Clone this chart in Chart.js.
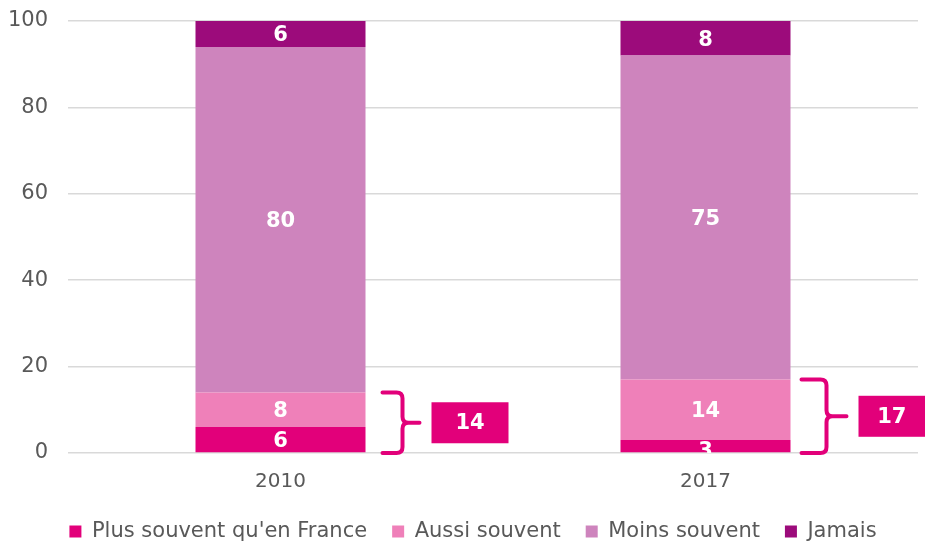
<!DOCTYPE html>
<html>
<head>
<meta charset="utf-8">
<script src="https://cdn.jsdelivr.net/npm/chart.js@4/dist/chart.umd.min.js"></script>
<style>
  html, body { margin: 0; padding: 0; background: #fff; }
  #wrap { width: 925px; height: 542px; position: relative; }
</style>
</head>
<body>
<div id="wrap"><canvas id="c"></canvas></div>
<script>
var years = ["2010", "2017"];
var plusSouvent = [6, 3];
var aussiSouvent = [8, 14];
var moinsSouvent = [80, 75];
var jamais = [6, 8];
var yTicks = [0, 20, 40, 60, 80, 100];

var FONT = "'DejaVu Sans', Verdana, sans-serif";
var MAGENTA = "#E2007A";

// white values centred in every stacked segment
var segmentLabels = {
  id: "segmentLabels",
  afterDatasetsDraw: function (chart) {
    var ctx = chart.ctx, area = chart.chartArea;
    ctx.save();
    ctx.beginPath();
    ctx.rect(area.left, area.top, area.right - area.left, area.bottom - area.top);
    ctx.clip();
    ctx.fillStyle = "#fff";
    ctx.font = "bold 21px " + FONT;
    ctx.textAlign = "center";
    ctx.textBaseline = "middle";
    chart.data.datasets.forEach(function (ds, i) {
      chart.getDatasetMeta(i).data.forEach(function (bar, j) {
        var h = Math.abs(bar.base - bar.y);
        var mid = (bar.y + bar.base) / 2 + (h < 20 ? 5 : 2);
        ctx.fillText(String(ds.data[j]), bar.x, mid);
      });
    });
    ctx.restore();
  }
};

// brace around the two lower segments with their sum in a box
var braceTotals = {
  id: "braceTotals",
  afterDraw: function (chart, args, opts) {
    var ctx = chart.ctx, y = chart.scales.y;
    var meta = chart.getDatasetMeta(0);
    ctx.save();
    meta.data.forEach(function (bar, j) {
      var sum = plusSouvent[j] + aussiSouvent[j];
      var top = y.getPixelForValue(sum);
      var bot = y.getPixelForValue(0);
      var mid = (top + bot) / 2;
      var x0 = bar.x + bar.width / 2 + opts.gap[j];
      var xv = x0 + opts.arm[j], xt = xv + opts.tip[j], r = 6;
      ctx.strokeStyle = MAGENTA;
      ctx.lineWidth = 4;
      ctx.lineCap = "round";
      ctx.beginPath();
      ctx.moveTo(x0, top);
      ctx.lineTo(xv - r, top);
      ctx.quadraticCurveTo(xv, top, xv, top + r);
      ctx.lineTo(xv, mid - r);
      ctx.quadraticCurveTo(xv, mid, xv + r, mid);
      ctx.lineTo(xt, mid);
      ctx.moveTo(xv + r, mid);
      ctx.quadraticCurveTo(xv, mid, xv, mid + r);
      ctx.lineTo(xv, bot - r);
      ctx.quadraticCurveTo(xv, bot, xv - r, bot);
      ctx.lineTo(x0, bot);
      ctx.stroke();
      var bx = xt + 12, bw = 77, bh = 41;
      var bRight = Math.min(bx + bw, chart.width);
      ctx.fillStyle = MAGENTA;
      ctx.fillRect(bx, mid - bh / 2, bw, bh);
      ctx.fillStyle = "#fff";
      ctx.font = "bold 21px " + FONT;
      ctx.textAlign = "center";
      ctx.textBaseline = "middle";
      ctx.fillText(String(sum), (bx + bRight) / 2, mid + 1);
    });
    ctx.restore();
  }
};

// nudge the centred legend row a little to the right
var legendShift = {
  id: "legendShift",
  afterLayout: function (chart, args, opts) {
    if (chart.legend) {
      chart.legend.left += opts.dx;
      chart.legend.right += opts.dx;
    }
  }
};

new Chart(document.getElementById("c"), {
  type: "bar",
  data: {
    labels: years,
    datasets: [
      { label: "Plus souvent qu'en France", data: plusSouvent, backgroundColor: MAGENTA },
      { label: "Aussi souvent", data: aussiSouvent, backgroundColor: "#EF80B9" },
      { label: "Moins souvent", data: moinsSouvent, backgroundColor: "#CE84BD" },
      { label: "Jamais", data: jamais, backgroundColor: "#9C0B7B" }
    ]
  },
  options: {
    responsive: true,
    maintainAspectRatio: false,
    animation: false,
    layout: { padding: { top: 21, right: 7, left: 0, bottom: -10 } },
    datasets: { bar: { barPercentage: 0.4, categoryPercentage: 1 } },
    scales: {
      x: {
        stacked: true,
        grid: { display: false, drawTicks: false },
        border: { display: false },
        ticks: { color: "#595959", font: { family: FONT, size: 20 }, padding: 17 },
        afterFit: function (axis) {
          axis.height = 43;
        }
      },
      y: {
        stacked: true,
        min: 0,
        max: 100,
        afterBuildTicks: function (axis) {
          axis.ticks = yTicks.map(function (v) { return { value: v }; });
        },
        afterFit: function (axis) {
          axis.width = 68;
          axis.paddingTop = 0;
          axis.paddingBottom = 0;
        },
        grid: { color: "#D9D9D9", lineWidth: 1.5, drawTicks: false },
        border: { display: false },
        ticks: { color: "#595959", font: { family: FONT, size: 21 }, padding: 20 }
      }
    },
    plugins: {
      legend: {
        position: "bottom",
        labels: {
          color: "#595959",
          font: { family: FONT, size: 21 },
          boxWidth: 12,
          boxHeight: 12,
          padding: 25
        }
      },
      tooltip: { enabled: false },
      braceTotals: { gap: [17, 11], arm: [20, 25], tip: [17, 20] },
      legendShift: { dx: 14 }
    }
  },
  plugins: [segmentLabels, braceTotals, legendShift]
});
</script>
</body>
</html>
